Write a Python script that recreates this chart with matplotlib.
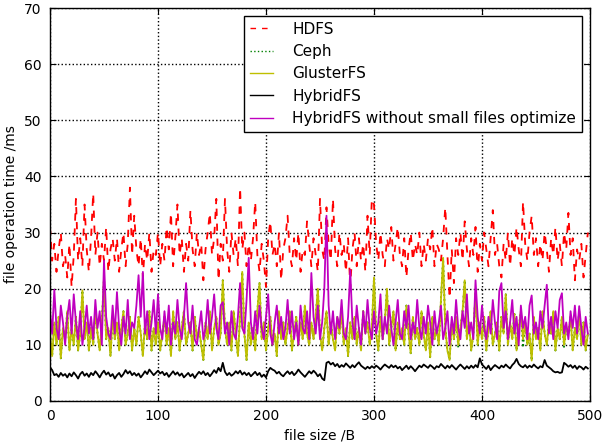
import matplotlib
matplotlib.use('Agg')
import matplotlib.pyplot as plt
import numpy as np

# file size /B, one sample every 2 B
file_size = np.arange(0, 500, 2)

hdfs_ms = [
    31, 25, 28, 23, 27, 30, 24, 26, 22, 28,
    20.3, 26, 36, 25, 29, 24, 35, 27, 23, 29,
    37, 26, 30, 24, 28, 25, 31, 23, 27, 29,
    25, 29, 23, 27, 30, 24, 28, 38, 26, 33,
    27, 24, 29, 22, 28, 25, 30, 23, 27, 26,
    30, 24, 28, 25, 31, 27, 33.5, 24, 29, 35,
    26, 29, 23, 28, 25, 34, 27, 24, 30, 26,
    28, 21.5, 27, 30, 33.5, 26, 29, 36, 21.5, 28,
    25, 36, 27, 23, 30, 26, 29, 24, 38, 27,
    30, 24, 28, 25, 29, 35.5, 26, 23, 28, 25,
    20.3, 29, 32, 26, 28, 24, 30, 21.5, 27, 29,
    33, 26, 24, 29, 25, 30, 23, 27, 26, 32,
    28, 24, 29, 26, 23, 36, 27, 25, 34.5, 28,
    25, 36, 27, 24, 30, 26, 28, 23, 29, 20.3,
    27, 30, 24, 29, 25, 28, 23, 33, 26, 36,
    35, 28, 25, 30, 26, 24, 29, 27, 31, 25,
    28, 31, 26, 24, 29, 22, 27, 30, 25, 28,
    26, 30, 24, 28, 25, 29, 27, 31, 24, 28,
    27, 25, 29, 34.5, 26, 18.3, 27, 21, 29, 26,
    30, 25, 32, 27, 24, 29, 26, 31, 23, 28,
    25, 30, 27, 24, 29, 34, 26, 28, 24, 22,
    28, 25, 30, 24, 29, 26, 31, 27, 24, 35.5,
    28, 25, 30, 33, 26, 29, 24, 28, 25, 30,
    27, 23, 29, 26, 31, 25, 28, 24, 30, 27,
    33.5, 26, 29, 21.5, 27, 25, 28, 22, 26, 30,
]

ceph_ms = [
    12, 8, 14, 10, 15, 7.6, 13, 11, 16, 9,
    13, 10, 15, 9, 12, 19.7, 11, 14, 9, 13,
    10, 16, 12, 9, 14, 22, 11, 13, 8, 15,
    11, 14, 9, 13, 16, 10, 12, 15, 9, 13,
    10, 15, 12, 8, 14, 11, 16, 9, 13, 10,
    14, 9, 12, 15, 10, 13, 8, 16, 11, 14,
    9, 13, 16, 10, 12, 14, 9, 15, 11, 13,
    10, 7.3, 14, 11, 16, 9, 13, 15, 10, 12,
    21.5, 13, 10, 14, 9, 16, 12, 8, 15, 23,
    12, 7.3, 14, 10, 13, 9, 16, 21, 11, 14,
    9, 13, 15, 10, 12, 8, 16, 11, 14, 10,
    13, 16, 9, 12, 15, 10, 14, 11, 17, 12,
    10, 14, 11, 15, 20, 12, 9, 13, 16, 10,
    14, 11, 9, 15, 12, 16, 10, 13, 8, 14,
    11, 15, 10, 13, 9, 16, 12, 14, 10, 13,
    22, 12, 9, 15, 11, 14, 20, 10, 13, 16,
    9, 14, 11, 13, 10, 17, 12, 8.5, 15, 11,
    13, 10, 16, 12, 9, 14, 7.8, 15, 11, 13,
    10, 18, 25.5, 13, 9, 7.3, 14, 11, 15, 9.5,
    13, 16, 21.5, 11, 14, 9, 12, 19.2, 10, 14,
    11, 15, 9, 13, 16, 10, 12, 14, 9, 15,
    12, 19, 10, 14, 11, 15.5, 9, 13, 16, 9.5,
    14, 10, 12, 7.2, 15, 11, 13, 9, 16, 12,
    10, 14, 12, 16, 9, 13, 11, 15, 9.5, 13,
    12, 15, 9, 13, 11, 16, 10, 14, 9, 12,
]

glusterfs_ms = [
    12, 8, 14, 10, 15, 7.6, 13, 11, 16, 9,
    13, 10, 15, 9, 12, 19.7, 11, 14, 9, 13,
    10, 16, 12, 9, 14, 22, 11, 13, 8, 15,
    11, 14, 9, 13, 16, 10, 12, 15, 9, 13,
    10, 15, 12, 8, 14, 11, 16, 9, 13, 10,
    14, 9, 12, 15, 10, 13, 8, 16, 11, 14,
    9, 13, 16, 10, 12, 14, 9, 15, 11, 13,
    10, 7.3, 14, 11, 16, 9, 13, 15, 10, 12,
    21.5, 13, 10, 14, 9, 16, 12, 8, 15, 23,
    12, 7.3, 14, 10, 13, 9, 16, 21, 11, 14,
    9, 13, 15, 10, 12, 8, 16, 11, 14, 10,
    13, 16, 9, 12, 15, 10, 14, 11, 17, 12,
    10, 14, 11, 15, 20, 12, 9, 13, 16, 10,
    14, 11, 9, 15, 12, 16, 10, 13, 8, 14,
    11, 15, 10, 13, 9, 16, 12, 14, 10, 13,
    22, 12, 9, 15, 11, 14, 20, 10, 13, 16,
    9, 14, 11, 13, 10, 17, 12, 8.5, 15, 11,
    13, 10, 16, 12, 9, 14, 7.8, 15, 11, 13,
    10, 18, 25.5, 13, 9, 7.3, 14, 11, 15, 10,
    13, 16, 21.5, 11, 14, 9, 12, 19.2, 10, 14,
    11, 15, 9, 13, 16, 10, 12, 14, 9, 15,
    12, 19, 10, 14, 11, 15.5, 9, 13, 16, 11,
    14, 10, 12, 7.2, 15, 11, 13, 9, 16, 12,
    10, 14, 12, 16, 9, 13, 11, 15, 10, 13,
    12, 15, 9, 13, 11, 16, 10, 14, 9, 12,
]

hybridfs_ms = [
    6.0, 5.5, 4.6, 4.8, 4.3, 5.0, 4.5, 4.8, 4.2, 4.9,
    4.4, 5.1, 4.6, 4.0, 4.8, 5.2, 4.5, 4.9, 4.3, 5.0,
    4.6, 5.3, 4.8, 4.2, 4.9, 5.4, 4.7, 5.1, 4.4, 4.8,
    4.0, 4.6, 5.0, 4.3, 4.8, 5.5, 4.9, 5.3, 4.6, 5.0,
    4.5, 4.9, 4.2, 4.7, 5.3, 4.8, 5.6, 5.1, 4.6, 5.0,
    5.4, 4.9, 5.2, 4.6, 5.0, 4.3, 4.8, 5.3, 4.7, 5.1,
    4.5, 4.9, 4.2, 4.6, 5.0, 4.4, 4.8, 4.1, 4.7, 5.2,
    4.8, 5.3, 4.6, 5.0, 4.4, 4.9, 5.5, 5.0, 5.9, 5.3,
    6.8, 5.2, 4.6, 5.0, 4.5, 4.8, 5.3, 4.9, 5.4, 4.7,
    5.1, 4.6, 5.0, 4.4, 4.8, 5.2, 4.6, 5.0, 4.3, 4.7,
    4.2, 5.3, 5.9, 5.6, 5.4, 4.9, 5.2, 4.7, 4.4, 4.9,
    5.3, 4.8, 5.2, 4.6, 5.0, 5.6, 5.1, 4.7, 4.3, 4.8,
    5.3, 4.9, 5.4, 5.0, 4.4, 4.8, 4.0, 3.7, 6.8, 7.0,
    6.5, 6.8, 6.2, 6.6, 6.0, 6.4, 6.1, 6.7, 6.3, 5.9,
    6.4, 6.0, 6.5, 6.9, 6.3, 6.0, 5.7, 6.1, 5.8, 6.2,
    5.9, 6.3, 6.0, 5.6, 6.1, 6.5, 6.2, 5.9, 6.4, 6.0,
    6.3, 5.8, 6.1, 5.5, 5.9, 6.3, 5.7, 6.2, 5.8, 5.3,
    5.8, 6.3, 6.0, 6.5, 6.2, 5.9, 6.4, 6.1, 5.7, 6.2,
    6.0, 6.6, 6.2, 5.8, 6.3, 5.9, 6.4, 6.0, 5.6, 6.1,
    6.5, 6.1, 5.7, 6.2, 5.8, 6.3, 5.9, 6.4, 6.0, 7.6,
    6.5, 6.1, 5.7, 6.3, 5.5, 6.0, 6.4, 6.1, 5.8, 6.3,
    6.0, 6.5, 6.1, 5.8, 6.4, 6.8, 7.5, 6.6, 6.2, 6.0,
    6.4, 5.9, 6.3, 6.0, 6.5, 6.1, 5.8, 6.2, 6.0, 7.3,
    6.3, 6.0, 5.7, 5.3, 5.1, 5.2, 5.0, 5.1, 6.8, 6.5,
    6.1, 6.4, 5.9, 6.3, 5.7, 6.2, 6.0, 5.6, 6.1, 5.8,
]

hybridfs_noopt_ms = [
    16, 12, 19.8, 13, 11, 17, 14, 10, 15, 18,
    12, 19, 14, 11, 16, 10, 13, 17, 12, 15,
    11, 18, 13, 16, 10, 25, 15, 12, 11, 17,
    12, 19.4, 13, 10, 15, 12, 18, 11, 14, 13,
    17, 22.4, 15, 23, 12, 16, 11, 14, 18, 12,
    19, 13, 11, 16, 12, 17, 10, 14, 12, 18,
    13, 11, 15, 21, 14, 12, 17, 11, 10, 13,
    16, 11, 13, 18, 12, 15, 19, 13, 11, 17,
    17.6, 12, 14, 10, 16, 12, 11, 15, 21, 13,
    12, 18, 25.5, 14, 11, 16, 12, 17, 13, 11,
    15, 19, 12, 10, 14, 17, 12, 15, 11, 13,
    18, 12, 16, 11, 14, 10, 17, 13, 12, 16,
    11, 22.8, 15, 12, 17, 11, 14, 20, 33, 17,
    12, 16, 11, 15, 13, 18, 12, 11, 15, 23.3,
    14, 11, 17, 13, 10, 16, 12, 18, 13, 11,
    16, 12, 14, 19, 11, 15, 12, 17, 13, 10,
    14, 18, 12, 11, 16, 13, 17, 11, 14, 12,
    18, 13, 11, 15, 12, 17, 14, 10, 16, 12,
    14, 17, 11, 13, 16, 10, 15, 12, 18, 13,
    11, 16, 13, 19, 12, 14, 11, 21.5, 15, 12,
    17, 13, 11, 15, 12, 18, 14, 11, 19.6, 21,
    13, 16, 11, 14, 18, 12, 15, 10, 17, 13,
    15, 11, 17, 18.8, 12, 14, 11, 16, 13, 17,
    20.7, 12, 15, 11, 16, 13, 18, 19.2, 12, 14,
    11, 16, 13, 17, 12, 16.9, 13, 10, 15, 12,
]

labels = ['HDFS', 'Ceph', 'GlusterFS', 'HybridFS',
          'HybridFS without small files optimize']
x_ticks = [0, 100, 200, 300, 400, 500]
y_ticks = [0, 10, 20, 30, 40, 50, 60, 70]

plt.rcParams['font.family'] = ['DejaVu Sans']
fig = plt.figure(figsize=(6.11, 4.42), dpi=100, facecolor='white')
ax = fig.add_axes([50 / 611, 41 / 442, 540 / 611, 393 / 442])

LW = 1.3
ax.plot(file_size, hdfs_ms, color=(1, 0, 0), ls='--', dashes=(4, 4.3), lw=LW, label=labels[0])
ax.plot(file_size, ceph_ms, color=(0, 0.5, 0), ls=':', lw=LW, label=labels[1])
ax.plot(file_size, glusterfs_ms, color=(0.75, 0.75, 0), lw=LW, label=labels[2])
ax.plot(file_size, hybridfs_ms, color='k', lw=LW, label=labels[3])
ax.plot(file_size, hybridfs_noopt_ms, color=(0.75, 0, 0.75), lw=LW, label=labels[4])

ax.set_xlim(0, 500)
ax.set_ylim(0, 70)
ax.set_xticks(x_ticks)
ax.set_yticks(y_ticks)
ax.grid(True, color='k', ls=':', lw=1)
ax.tick_params(direction='in', top=True, right=True, length=4, labelsize=10, pad=6)
for s in ax.spines.values():
    s.set_linewidth(1)
ax.set_xlabel('file size /B', fontsize=10, labelpad=4)
ax.set_ylabel('file operation time /ms', fontsize=10, labelpad=4)

leg = ax.legend(loc='upper right', fontsize=11, fancybox=False, framealpha=1,
                edgecolor='k', handlelength=1.5, handletextpad=1.25,
                labelspacing=0.48, borderpad=0.4, borderaxespad=0.5)
leg.get_frame().set_linewidth(1)
for h in leg.get_lines():
    h.set_linewidth(1.0)

fig.savefig('out.png', dpi=100, facecolor='white')
